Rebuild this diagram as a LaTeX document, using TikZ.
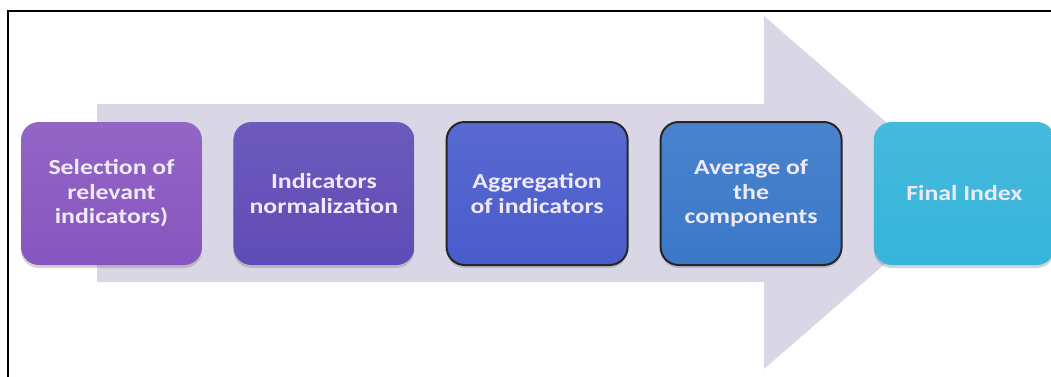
\documentclass[tikz,border=0pt]{standalone}
\usepackage{fontspec}
\newfontfamily\stagefont[FakeStretch=1.2]{Carlito}
\usepackage{tikz}
\usetikzlibrary{positioning,shadows}
\definecolor{flowgray}{HTML}{D9D7E6}
\definecolor{selcol}{HTML}{8755BF}
\definecolor{normcol}{HTML}{5F4CB6}
\definecolor{aggcol}{HTML}{4A5CCC}
\definecolor{avgcol}{HTML}{3A78C8}
\definecolor{fincol}{HTML}{36B4DA}
\definecolor{labelcol}{HTML}{EFEAF8}

\begin{document}
\begin{tikzpicture}[x=1pt,y=-1pt]
  \tikzset{
    stage/.style={rounded corners=18pt,minimum width=181pt,minimum height=143pt,
                  inner sep=0pt,align=center,text=labelcol,
                  font=\stagefont\bfseries\fontsize{21.5}{24.5}\selectfont,
                  drop shadow={shadow xshift=0pt,shadow yshift=-3pt,opacity=0.35}},
    ringed/.style={stage,draw=black!85,line width=2pt},
  }
  \useasboundingbox (0,0) rectangle (1051,376);
  % ---- frame ----
  \draw[line width=2pt] (8,420) -- (8,11) -- (1070,11);
  % ---- big flow arrow ----
  \fill[flowgray] (97,104) -- (764,104) -- (764,16) -- (967,192.5)
       -- (764,369) -- (764,282) -- (97,282) -- cycle;
  % ---- stages ----
  \node[stage,top color=selcol!90!white,bottom color=selcol] (sel) at (111.5,193.5)
       {Selection of\\relevant\\indicators)};
  \node[stage,top color=normcol!92!white,bottom color=normcol,right=31pt of sel] (norm)
       {Indicators\\normalization};
  \node[ringed,top color=aggcol!92!white,bottom color=aggcol,right=31pt of norm] (agg)
       {Aggregation\\of indicators};
  \node[ringed,top color=avgcol!92!white,bottom color=avgcol,right=31pt of agg] (avg)
       {Average of\\the\\components};
  \node[stage,top color=fincol!92!white,bottom color=fincol,right=31pt of avg] (fin)
       {Final Index};
\end{tikzpicture}
\end{document}
